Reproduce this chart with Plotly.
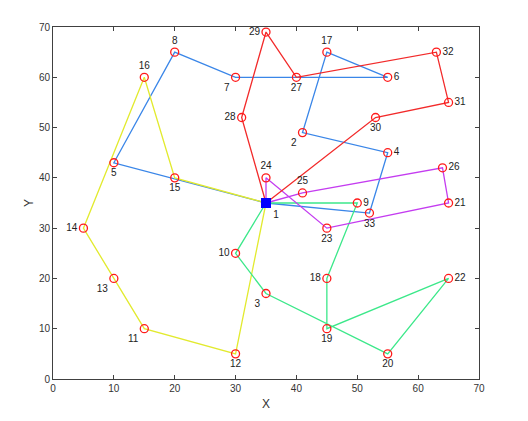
import plotly.graph_objects as go

# Node coordinates (node id -> x, y)
node_ids = list(range(1, 34))
node_x = [35, 41, 35, 55, 10, 55, 30, 20, 50, 30, 15, 30, 10, 5, 20, 15, 45,
          45, 45, 55, 65, 65, 45, 35, 41, 64, 40, 31, 35, 53, 65, 63, 52]
node_y = [35, 49, 17, 45, 43, 60, 60, 65, 35, 25, 10, 5, 20, 30, 40, 60, 65,
          20, 10, 5, 35, 20, 30, 40, 37, 42, 60, 52, 69, 52, 55, 65, 33]

# Vehicle routes (sequence of node ids)
route_red = [1, 28, 29, 27, 32, 31, 30, 1]
route_blue = [1, 5, 8, 7, 6, 17, 2, 4, 33, 1]
route_yellow = [1, 15, 16, 14, 13, 11, 12, 1]
route_magenta = [1, 24, 23, 21, 26, 25, 1]
route_green = [1, 9, 18, 19, 22, 20, 3, 10, 1]

routes = [route_blue, route_yellow, route_green, route_magenta, route_red]
route_colors = ["#3a86e8", "#e2ea2e", "#3ce88a", "#c43cf0", "#f22a2a"]

# label placement styles
label_pos = {
    1: "bottom right", 2: "bottom left", 3: "bottom left", 4: "middle right", 5: "bottom center",
    6: "middle right", 7: "bottom left", 8: "top center", 9: "middle right", 10: "middle left",
    11: "bottom left", 12: "bottom center", 13: "bottom left", 14: "middle left",
    15: "bottom center", 16: "top center", 17: "top center", 18: "middle left",
    19: "bottom center", 20: "bottom center", 21: "middle right", 22: "middle right",
    23: "bottom center", 24: "top center", 25: "top center", 26: "middle right",
    27: "bottom center", 28: "middle left", 29: "middle left", 30: "bottom center",
    31: "middle right", 32: "middle right", 33: "bottom center",
}

fig = go.Figure()
for r, c in zip(routes, route_colors):
    fig.add_trace(go.Scatter(
        x=[node_x[i - 1] for i in r], y=[node_y[i - 1] for i in r],
        mode="lines", line=dict(color=c, width=1.3), hoverinfo="skip"))

cust = node_ids[1:]
fig.add_trace(go.Scatter(
    x=[node_x[i - 1] for i in cust], y=[node_y[i - 1] for i in cust],
    mode="markers+text",
    marker=dict(symbol="circle-open", size=8, color="#ff1a1a", line=dict(width=1.3)),
    text=[str(i) for i in cust],
    textposition=[label_pos[i] for i in cust],
    textfont=dict(family="Liberation Sans, Arial", size=10, color="#222")))

fig.add_trace(go.Scatter(
    x=[node_x[0]], y=[node_y[0]], mode="markers+text",
    marker=dict(symbol="square", size=10, color="#0000ff"),
    text=["1"], textposition=label_pos[1],
    textfont=dict(family="Liberation Sans, Arial", size=10, color="#222")))

axis_common = dict(
    range=[0, 70], dtick=10, tick0=0, showgrid=False, zeroline=False,
    showline=True, linecolor="#404040", linewidth=1, mirror="ticks",
    ticks="inside", ticklen=4, tickcolor="#404040",
    tickfont=dict(family="Liberation Sans, Arial", size=10, color="#333"),
)

fig.update_layout(
    width=520, height=413,
    margin=dict(l=45, r=49, t=19, b=42),
    paper_bgcolor="white", plot_bgcolor="white",
    showlegend=False,
    xaxis=dict(**axis_common, title=dict(text="X", standoff=6,
               font=dict(family="Liberation Sans, Arial", size=12, color="#333"))),
    yaxis=dict(**axis_common, title=dict(text="Y", standoff=2,
               font=dict(family="Liberation Sans, Arial", size=12, color="#333"))),
)

fig.write_html("out.html")
